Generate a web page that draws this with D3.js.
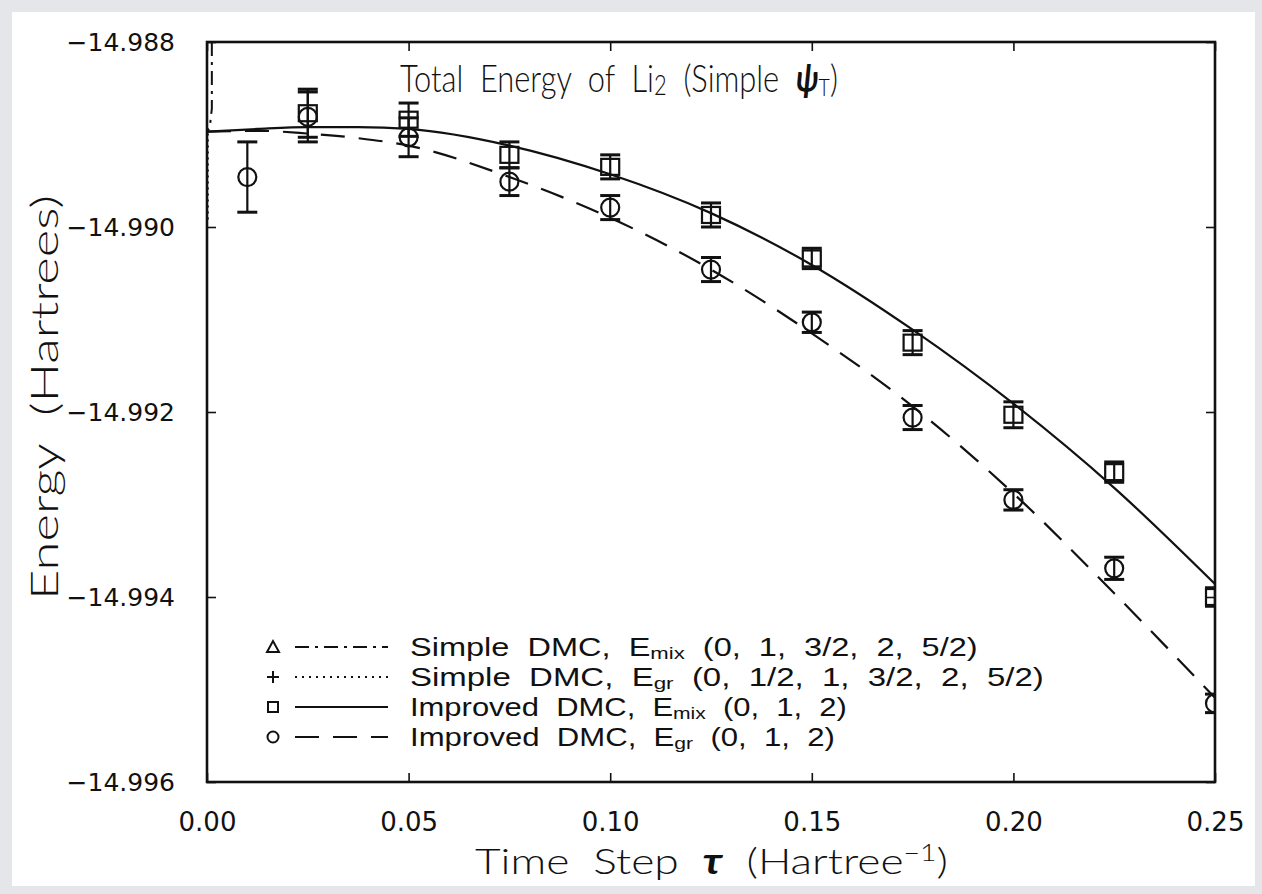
<!DOCTYPE html>
<html>
<head>
<meta charset="utf-8">
<script src="https://cdn.jsdelivr.net/npm/d3@7"></script>
<style>
  body { margin: 0; background: #e4e6e9; }
  svg { display: block; }
  text { white-space: pre; }
</style>
</head>
<body>
<svg id="chart" width="1262" height="894"></svg>
<script>
// --- values ---
const xTicks = [0, 0.05, 0.10, 0.15, 0.20, 0.25];
const yTicks = [-14.988, -14.990, -14.992, -14.994, -14.996];

// Improved DMC, E_mix (squares)
const tauMix = [0.025, 0.05, 0.075, 0.10, 0.125, 0.15, 0.175, 0.20, 0.225, 0.25];
const eMix   = [-14.98877, -14.98884, -14.98922, -14.98935, -14.98987, -14.99034, -14.99125, -14.99203, -14.99265, -14.99400];
const errMix = [0.00026, 0.00018, 0.00014, 0.00013, 0.00013, 0.00011, 0.00013, 0.00014, 0.00011, 0.00010];

// Improved DMC, E_gr (circles)
const tauGr = [0.01, 0.025, 0.05, 0.075, 0.10, 0.125, 0.15, 0.175, 0.20, 0.225, 0.25];
const eGr   = [-14.98946, -14.98881, -14.98903, -14.98951, -14.98979, -14.99046, -14.99103, -14.99206, -14.99295, -14.99369, -14.99515];
const errGr = [0.00038, 0.00027, 0.00021, 0.00015, 0.00013, 0.00013, 0.00011, 0.00013, 0.00011, 0.00012, 0.00010];

// fitted curves
const fitTau = [0, 0.0125, 0.025, 0.0375, 0.05, 0.075, 0.10, 0.125, 0.15, 0.175, 0.20, 0.225, 0.25];
const fitMix = [-14.98897, -14.98894, -14.98892, -14.98892, -14.98894, -14.98912, -14.98943, -14.98985, -14.99041, -14.99111, -14.99191, -14.99282, -14.99386];
const fitGr  = [-14.98897, -14.98896, -14.98899, -14.98904, -14.98912, -14.98946, -14.98990, -14.99046, -14.99115, -14.99194, -14.99288, -14.99396, -14.99509];

// simple DMC curves, only visible right at tau ~ 0
const simpleMixTau = [0.0012, 0.0012, 0.0007, 0];
const simpleMixE   = [-14.98800, -14.98872, -14.98892, -14.98897];
const simpleGrTau  = [0.0002, 0.0002];
const simpleGrE    = [-14.98899, -14.98992];

const legendLabels = [
  ["Simple  DMC,  E", "mix", "  (0,  1,  3/2,  2,  5/2)"],
  ["Simple  DMC,  E", "gr", "  (0,  1/2,  1,  3/2,  2,  5/2)"],
  ["Improved  DMC,  E", "mix", "  (0,  1,  2)"],
  ["Improved  DMC,  E", "gr", "  (0,  1,  2)"]
];
const legendSymbols = ["triangle", "plus", "square", "circle"];
const legendDash = ["14,6,3,6", "2,5", null, "24,14"];
const legendWidths = [568, 634, 437, 425];

// --- layout ---
const svg = d3.select("#chart");
const font = "'Liberation Sans', Arial, sans-serif";
const thinFont = "Lato, 'Liberation Sans', sans-serif";

// squeeze/stretch a text horizontally so it covers the same width as in the scan
function fitText(sel, x0, y0, width, rotate) {
  const w = sel.node().getComputedTextLength();
  const k = width / w;
  sel.attr("x", 0).attr("y", 0)
    .attr("transform", `translate(${x0},${y0})${rotate ? " rotate(" + rotate + ")" : ""} scale(${k},1)`);
}

svg.append("rect").attr("x", 12).attr("y", 12).attr("width", 1243).attr("height", 874).attr("fill", "#fff");

const x = d3.scaleLinear().domain([0, 0.25]).range([207, 1215]);
const y = d3.scaleLinear().domain([-14.996, -14.988]).range([782, 42]);

svg.append("clipPath").attr("id", "plotClip")
  .append("rect").attr("x", 207).attr("y", 42).attr("width", 1008).attr("height", 740);

// axes: ticks point inward, labels only bottom and left
const axisB = svg.append("g").attr("transform", "translate(0,782)")
  .call(d3.axisBottom(x).tickValues(xTicks).tickSize(-9).tickPadding(31).tickFormat(d3.format(".2f")));
const axisL = svg.append("g").attr("transform", "translate(207,0)")
  .call(d3.axisLeft(y).tickValues(yTicks).tickSize(-9).tickPadding(32).tickFormat(d => d3.format(".3f")(d)));
const axisT = svg.append("g").attr("transform", "translate(0,42)")
  .call(d3.axisTop(x).tickValues(xTicks).tickSize(-9).tickFormat(""));
const axisR = svg.append("g").attr("transform", "translate(1215,0)")
  .call(d3.axisRight(y).tickValues(yTicks).tickSize(-9).tickFormat(""));

[axisB, axisL, axisT, axisR].forEach(g => {
  g.select(".domain").remove();
  g.selectAll(".tick line").attr("stroke", "#111").attr("stroke-width", 1.6);
});
axisB.selectAll("text").attr("font-family", "'DejaVu Sans', sans-serif").attr("font-size", 26).attr("fill", "#111");
axisL.selectAll("text").attr("font-family", "'DejaVu Sans', sans-serif").attr("font-size", 25).attr("fill", "#111");

// frame
svg.append("rect").attr("x", 207).attr("y", 42).attr("width", 1008).attr("height", 740)
  .attr("fill", "none").attr("stroke", "#111").attr("stroke-width", 2.6);

const plot = svg.append("g").attr("clip-path", "url(#plotClip)");

// curves
const line = d3.line().x(d => x(d[0])).y(d => y(d[1])).curve(d3.curveMonotoneX);
const lineRaw = d3.line().x(d => x(d[0])).y(d => y(d[1]));

plot.append("path").datum(d3.zip(fitTau, fitMix)).attr("d", line)
  .attr("fill", "none").attr("stroke", "#111").attr("stroke-width", 2.2);
plot.append("path").datum(d3.zip(fitTau, fitGr)).attr("d", line)
  .attr("fill", "none").attr("stroke", "#111").attr("stroke-width", 2.2).attr("stroke-dasharray", "24,14");
plot.append("path").datum(d3.zip(simpleMixTau, simpleMixE)).attr("d", lineRaw)
  .attr("fill", "none").attr("stroke", "#111").attr("stroke-width", 2).attr("stroke-dasharray", "14,6,3,6");
plot.append("path").datum(d3.zip(simpleGrTau, simpleGrE)).attr("d", lineRaw)
  .attr("fill", "none").attr("stroke", "#111").attr("stroke-width", 2).attr("stroke-dasharray", "2,4");

// error bars + markers
function errorBars(taus, es, errs) {
  const g = plot.append("g").attr("stroke", "#111").attr("stroke-width", 2.2).attr("fill", "none");
  taus.forEach((t, i) => {
    const cx = x(t), y0 = y(es[i] - errs[i]), y1 = y(es[i] + errs[i]);
    g.append("line").attr("x1", cx).attr("x2", cx).attr("y1", y0).attr("y2", y1);
    g.append("line").attr("x1", cx - 10).attr("x2", cx + 10).attr("y1", y0).attr("y2", y0).attr("stroke-width", 3);
    g.append("line").attr("x1", cx - 10).attr("x2", cx + 10).attr("y1", y1).attr("y2", y1).attr("stroke-width", 3);
  });
}
errorBars(tauMix, eMix, errMix);
errorBars(tauGr, eGr, errGr);

plot.append("g").selectAll("rect").data(d3.zip(tauMix, eMix)).join("rect")
  .attr("x", d => x(d[0]) - 9).attr("y", d => y(d[1]) - 8)
  .attr("width", 18).attr("height", 16)
  .attr("fill", "none").attr("stroke", "#111").attr("stroke-width", 2.2);

plot.append("g").selectAll("circle").data(d3.zip(tauGr, eGr)).join("circle")
  .attr("cx", d => x(d[0])).attr("cy", d => y(d[1])).attr("r", 9)
  .attr("fill", "none").attr("stroke", "#111").attr("stroke-width", 2.2);

// title
const title = svg.append("text")
  .attr("font-family", thinFont).attr("font-weight", 300).attr("font-size", 38).attr("fill", "#111");
title.append("tspan").text("Total  Energy  of  Li");
title.append("tspan").attr("font-size", 27).attr("dy", 3).text("2");
title.append("tspan").attr("dy", -3).text("  (Simple  ");
title.append("tspan").attr("font-style", "italic").attr("font-weight", "bold").text("ψ");
title.append("tspan").attr("font-size", 24).attr("dy", 4).text("T");
title.append("tspan").attr("dy", -4).text(")");
fitText(title, 400, 92, 438);

// x axis title
const xTitle = svg.append("text")
  .attr("font-family", thinFont).attr("font-weight", 300).attr("font-size", 36).attr("fill", "#111");
xTitle.append("tspan").text("Time  Step  ");
xTitle.append("tspan").attr("font-style", "italic").attr("font-weight", "bold").text("τ");
xTitle.append("tspan").text("  (Hartree");
xTitle.append("tspan").attr("font-size", 23).attr("dy", -13).text("−1");
xTitle.append("tspan").attr("dy", 13).text(")");
fitText(xTitle, 475, 874, 473);

// y axis title
const yTitle = svg.append("text")
  .attr("font-family", thinFont).attr("font-weight", 300).attr("font-size", 38).attr("fill", "#111")
  .text("Energy  (Hartrees)");
fitText(yTitle, 58, 600, 405, -90);

// legend
const legendY = [647, 677, 707, 737];
const legend = svg.append("g");
legendLabels.forEach((parts, i) => {
  const ly = legendY[i];
  const sym = legendSymbols[i];
  const g = legend.append("g").attr("stroke", "#111").attr("stroke-width", 2).attr("fill", "none");
  if (sym === "triangle") {
    g.append("path").attr("d", `M267,${ly + 5}L279,${ly + 5}L273,${ly - 6}Z`);
  } else if (sym === "plus") {
    g.append("path").attr("d", `M267,${ly}H279M273,${ly - 6}V${ly + 6}`);
  } else if (sym === "square") {
    g.append("rect").attr("x", 268).attr("y", ly - 5).attr("width", 10).attr("height", 10);
  } else {
    g.append("circle").attr("cx", 273).attr("cy", ly).attr("r", 5.5);
  }
  const seg = g.append("line").attr("x1", 295).attr("x2", 388).attr("y1", ly).attr("y2", ly);
  if (legendDash[i]) seg.attr("stroke-dasharray", legendDash[i]);

  const t = legend.append("text")
    .attr("font-family", font).attr("font-size", 25).attr("fill", "#111");
  t.append("tspan").text(parts[0]);
  t.append("tspan").attr("font-size", 17).attr("dy", 3).text(parts[1]);
  t.append("tspan").attr("dy", -3).text(parts[2]);
  fitText(t, 410, ly + 9, legendWidths[i]);
});
</script>
</body>
</html>
